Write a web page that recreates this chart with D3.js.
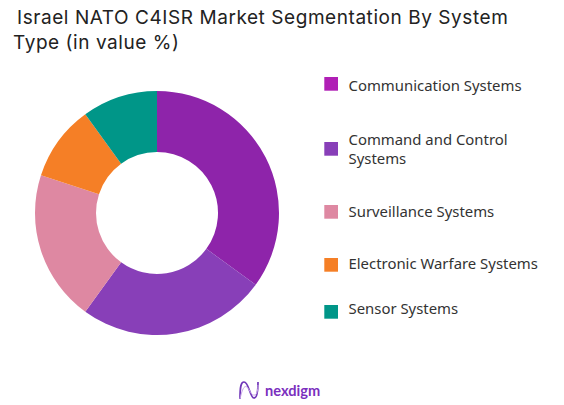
<!DOCTYPE html>
<html><head><meta charset="utf-8">
<script src="https://cdn.jsdelivr.net/npm/d3@7"></script>
<style>html,body{margin:0;padding:0;background:#fff}svg{display:block}</style>
</head><body><svg id="c" width="564" height="405"></svg>
<script>
const titleLines = ["Israel NATO C4ISR Market Segmentation By System", "Type (in value %)"];
const categories = ["Communication Systems", "Command and Control Systems", "Surveillance Systems", "Electronic Warfare Systems", "Sensor Systems"];
const values = [35, 25, 20, 10, 10];
const sliceColors = ["#8E24AA", "#883FB8", "#DE88A2", "#F57F26", "#009688"];
const swatchColors = ["#B01FB5", "#883FB8", "#DE88A2", "#F57F26", "#009688"];
const legendLines = [["Communication Systems"], ["Command and Control", "Systems"], ["Surveillance Systems"], ["Electronic Warfare Systems"], ["Sensor Systems"]];
const legendBase = [91, 144.5, 217, 268.5, 313.5];
const swatchTop = [77, 142, 205, 258, 305];

const svg = d3.select("#c");
const title = svg.append("text").attr("font-family", "Inter, sans-serif").attr("font-size", 19)
  .attr("letter-spacing", 0.56).attr("fill", "#222");
title.selectAll("tspan").data(titleLines).join("tspan")
  .attr("x", (d, i) => i ? 13 : 17).attr("y", (d, i) => i ? 49 : 24).text(d => d);

const cx = 157, cy = 213, R = 122, r = 61;
const pie = d3.pie().sort(null).value(d => d);
const arc = d3.arc().innerRadius(r).outerRadius(R);
svg.append("g").attr("transform", `translate(${cx},${cy})`)
  .selectAll("path").data(pie(values)).join("path")
  .attr("d", arc).attr("fill", (d, i) => sliceColors[i]);

const leg = svg.append("g");
leg.selectAll("rect").data(categories).join("rect")
  .attr("x", 324.3).attr("y", (d, i) => swatchTop[i]).attr("width", 13.7).attr("height", 13.7)
  .attr("fill", (d, i) => swatchColors[i]);
categories.forEach((c, i) => {
  const t = leg.append("text").attr("font-family", "'Noto Sans', sans-serif").attr("font-size", 14.9).attr("fill", "#333");
  t.selectAll("tspan").data(legendLines[i]).join("tspan")
    .attr("x", 348.5)
    .attr("y", (d, j) => legendBase[i] + j * 19.7)
    .text(d => d);
});

const logo = svg.append("g").attr("fill", "none");
logo.append("path").attr("d", "M240 399C240 386 241 382 244 382C249 382 250 398 254 398C257 398 258 392 258 382")
  .attr("stroke", "#6F35B8").attr("stroke-width", 1.7);
logo.append("path").attr("d", "M240 399C242 390 244 385 247 387C250 390 251 396 255 395C257 394 258 390 258 385")
  .attr("stroke", "#C9A6E8").attr("stroke-width", 1);
logo.append("text").attr("x", 265).attr("y", 396).attr("font-family", "Lato, sans-serif").attr("font-weight", 700)
  .attr("font-size", 14.6).attr("fill", "#7B2FBE").text("nexdigm");
</script></body></html>
